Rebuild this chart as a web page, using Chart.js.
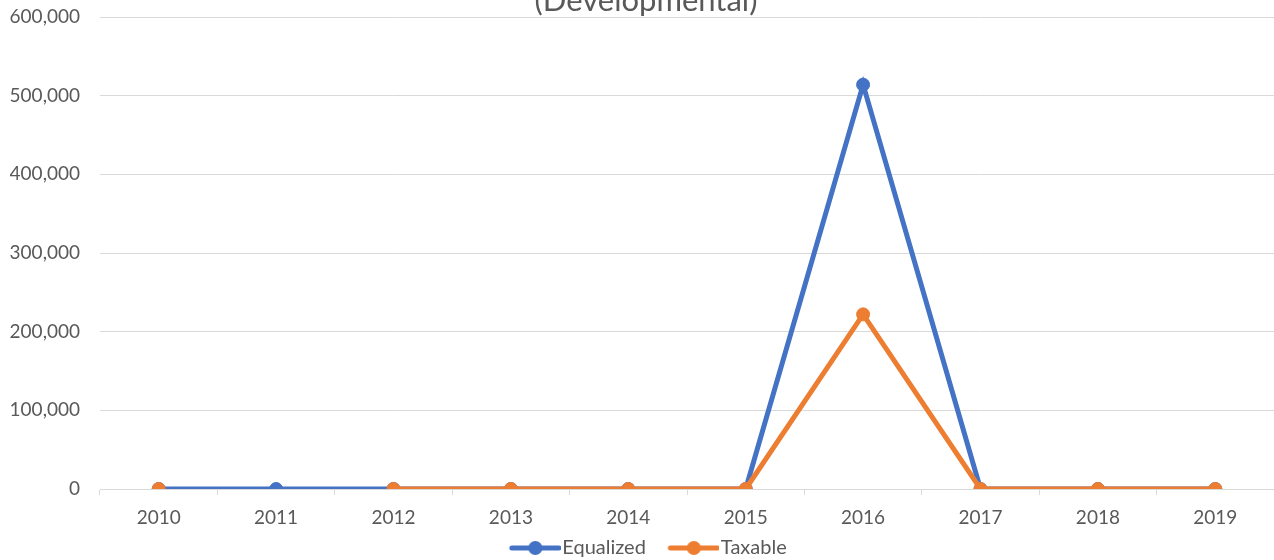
<!DOCTYPE html>
<html>
<head>
<meta charset="utf-8">
<title>Developmental</title>
<script src="https://cdn.jsdelivr.net/npm/chart.js@4/dist/chart.umd.min.js"></script>
<style>
    body { margin: 0; background: #ffffff; overflow: hidden; }
    .chartBox { width: 1274px; height: 560px; overflow: hidden; }
    #myChart { display: block; }
</style>
</head>
<body>
<div class="chartBox">
    <canvas id="myChart" width="1274" height="568"></canvas>
</div>
<script>
const years = ['2010', '2011', '2012', '2013', '2014', '2015', '2016', '2017', '2018', '2019'];
const equalized = [0, 0, 0, 0, 0, 0, 514000, 0, 0, 0];
const taxable = [0, null, 0, 0, 0, 0, 222000, 0, 0, 0];
const yTicks = [0, 100000, 200000, 300000, 400000, 500000, 600000];
const titleText = '(Developmental)';

const blue = '#4472C4';
const orange = '#ED7D31';
const textGrey = '#595959';
const gridGrey = '#D9D9D9';

// little line + dot picture for the legend (shifted right so it hugs the text)
function legendMarker(color) {
    const c = document.createElement('canvas');
    c.width = 72;
    c.height = 16;
    const g = c.getContext('2d');
    g.strokeStyle = color;
    g.lineWidth = 5;
    g.lineCap = 'round';
    g.beginPath();
    g.moveTo(23, 8);
    g.lineTo(70, 8);
    g.stroke();
    g.fillStyle = color;
    g.beginPath();
    g.arc(46.5, 8, 7, 0, Math.PI * 2);
    g.fill();
    return c;
}

// title sits half off the top of the picture
const clippedTitle = {
    id: 'clippedTitle',
    afterDraw(chart) {
        const ctx = chart.ctx;
        ctx.save();
        ctx.font = '31px Lato';
        ctx.fillStyle = textGrey;
        ctx.textAlign = 'center';
        ctx.textBaseline = 'alphabetic';
        ctx.fillText(titleText, chart.width / 2 + 9, 11);
        ctx.restore();
    }
};

const ctx = document.getElementById('myChart').getContext('2d');
const chart = new Chart(ctx, {
    type: 'line',
    data: {
        labels: years,
        datasets: [{
            label: 'Taxable',
            data: taxable,
            borderColor: orange,
            backgroundColor: orange,
            borderWidth: 5,
            pointRadius: 6.5,
            pointBorderWidth: 1,
            pointBackgroundColor: orange,
            pointBorderColor: orange,
            fill: false,
            tension: 0,
            spanGaps: false
        }, {
            label: 'Equalized',
            data: equalized,
            borderColor: blue,
            backgroundColor: blue,
            borderWidth: 5,
            pointRadius: 6.5,
            pointBorderWidth: 1,
            pointBackgroundColor: blue,
            pointBorderColor: blue,
            fill: false,
            tension: 0
        }]
    },
    options: {
        responsive: false,
        animation: false,
        layout: {
            autoPadding: false,
            padding: { top: 17, left: 10, right: 0, bottom: 0 }
        },
        scales: {
            x: {
                offset: true,
                afterFit(scale) {
                    scale.height = 39;
                },
                grid: {
                    display: true,
                    offset: true,
                    drawOnChartArea: false,
                    drawTicks: true,
                    tickLength: 6,
                    color: gridGrey
                },
                border: { display: true, color: gridGrey },
                ticks: {
                    color: textGrey,
                    font: { family: 'Lato', size: 19 },
                    padding: 11,
                    maxRotation: 0
                }
            },
            y: {
                min: 0,
                max: 600000,
                afterFit(scale) {
                    scale.width = 90;
                    // don't let the label padding push the plot down
                    scale.paddingTop = 0;
                    scale.paddingBottom = 0;
                },
                afterBuildTicks(scale) {
                    scale.ticks = yTicks.map(v => ({ value: v }));
                },
                grid: {
                    color: gridGrey,
                    drawTicks: false
                },
                border: { display: false },
                ticks: {
                    color: textGrey,
                    font: { family: 'Lato', size: 19 },
                    padding: 20,
                    callback: (v) => Number(v).toLocaleString('en-US')
                }
            }
        },
        plugins: {
            title: { display: false },
            tooltip: { enabled: false },
            legend: {
                position: 'bottom',
                reverse: true,
                labels: {
                    usePointStyle: true,
                    pointStyleWidth: 55,
                    color: textGrey,
                    font: { family: 'Lato', size: 20 },
                    padding: 10,
                    generateLabels(chart) {
                        const items = Chart.defaults.plugins.legend.labels.generateLabels(chart);
                        items.forEach(item => {
                            const ds = chart.data.datasets[item.datasetIndex];
                            item.pointStyle = legendMarker(ds.borderColor);
                        });
                        return items;
                    }
                }
            }
        }
    },
    plugins: [clippedTitle]
});
</script>
</body>
</html>
